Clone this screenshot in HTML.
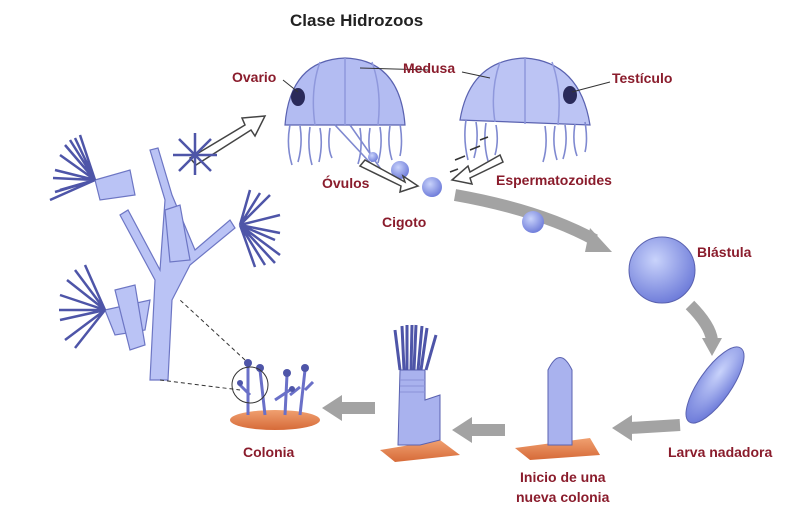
<!DOCTYPE html>
<html><head><meta charset="utf-8"><style>
html,body{margin:0;padding:0;background:#fff;}
svg{display:block}
.l{font-family:"Liberation Sans",sans-serif;font-weight:bold;font-size:14px;fill:#8a1c2c}
</style></head><body>
<svg width="800" height="520" viewBox="0 0 800 520" xmlns="http://www.w3.org/2000/svg">
<defs>
<radialGradient id="bl" cx="0.4" cy="0.35" r="0.7"><stop offset="0" stop-color="#c9d3fb"/><stop offset="1" stop-color="#6a78d8"/></radialGradient>
<linearGradient id="or" x1="0" y1="0" x2="0" y2="1"><stop offset="0" stop-color="#f0a070"/><stop offset="1" stop-color="#d66a38"/></linearGradient>
</defs>
<text x="290" y="26" font-family="Liberation Sans,sans-serif" font-weight="bold" font-size="17" fill="#222">Clase Hidrozoos</text>

<g fill="none" stroke="#a3a3a3" stroke-width="12">
<path d="M455 195 Q540 210 595 240"/>
<path d="M690 305 Q710 325 712 340"/>
<path d="M680 425 L630 428"/>
<path d="M505 430 L470 430"/>
<path d="M375 408 L340 408"/>
</g>
<g fill="#a3a3a3">
<polygon points="590,228 612,252 585,252"/>
<polygon points="702,338 722,338 712,356"/>
<polygon points="632,415 632,441 612,428"/>
<polygon points="472,417 472,443 452,430"/>
<polygon points="342,395 342,421 322,408"/>
</g>

<g stroke="#5a62b0" stroke-width="1.2">
<path d="M285 125 Q290 60 345 58 Q400 60 405 125 Z" fill="#b3bcf2"/>
<path d="M460 120 Q470 60 525 58 Q580 62 590 125 Z" fill="#bcc4f4"/>
</g>
<g stroke="#8f98dc" stroke-width="1.5" fill="none">
<path d="M320 62 Q310 90 315 125 M345 58 L345 125 M372 62 Q382 90 378 125"/>
<path d="M500 62 Q490 90 495 122 M525 58 L525 124 M552 62 Q562 90 558 125"/>
</g>
<g stroke="#7f89d0" stroke-width="1.6" fill="none">
<path d="M290 125 q-4 20 2 40 M300 126 q3 18 -2 36 M310 127 q-3 20 2 38 M320 128 q3 16 -1 34 M330 128 q-3 20 2 30 M360 128 q3 20 -2 36 M370 128 q-3 18 2 34 M380 127 q3 18 -2 36 M390 126 q-3 18 2 34 M400 124 q3 18 0 32"/>
<path d="M466 120 q-3 20 2 40 M476 122 q3 18 -2 36 M486 123 q-3 20 2 38 M496 125 q3 16 -1 30 M545 126 q3 20 -2 36 M555 126 q-3 18 2 34 M565 125 q3 18 -2 34 M575 124 q-3 18 2 32 M585 122 q3 18 0 30"/>
<path d="M335 125 L375 168 M350 125 L385 175"/>
</g>
<ellipse cx="298" cy="97" rx="7" ry="9" fill="#2a2a5a"/>
<ellipse cx="570" cy="95" rx="7" ry="9" fill="#2a2a5a"/>
<circle cx="373" cy="157" r="5" fill="url(#bl)"/>
<circle cx="400" cy="170" r="9" fill="url(#bl)"/>
<circle cx="432" cy="187" r="10" fill="url(#bl)"/>
<circle cx="533" cy="222" r="11" fill="url(#bl)"/>
<g fill="#fff" stroke="#444" stroke-width="1.5">
<path d="M365 160 L405 182 L403 176 L418 186 L400 192 L401 186 L360 166 Z"/>
<path d="M500 155 L470 172 L468 166 L452 180 L472 184 L470 178 L503 162 Z"/>
<path d="M190 158 L245 125 L242 118 L265 116 L255 136 L251 130 L196 165 Z"/>
</g>
<g stroke="#333" stroke-width="1.5"><path d="M455 160 l10 -4 M470 150 l10 -4 M450 172 l8 -3 M480 140 l8 -3"/></g>

<g stroke="#333" stroke-width="1"><path d="M283 80 L298 92 M462 72 L490 78 M610 82 L572 92 M430 70 L360 68"/></g>

<g fill="#bac3f5" stroke="#6d76c4" stroke-width="1.2">
<path d="M150 380 L155 280 L120 215 L128 210 L160 270 L165 200 L150 150 L158 148 L172 195 L195 250 L230 220 L235 228 L190 265 L172 300 L168 380 Z"/>
<path d="M95 180 L130 170 L135 195 L100 200 Z"/>
<path d="M165 210 L180 205 L190 260 L170 262 Z"/>
<path d="M105 310 L150 300 L145 330 L115 335 Z"/>
<path d="M115 290 L135 285 L145 345 L130 350 Z"/>
</g>
<g stroke="#4e55a8" stroke-width="2.5" fill="none">
<path d="M95 180 l-25 -40 M95 180 l-35 -25 M95 180 l-40 -10 M95 180 l-35 10 M95 180 l-15 -45 M95 180 l-45 20 M95 180 l-30 -35 M95 180 l-42 -2 M95 180 l-20 -42 M95 180 l-40 12"/>
<path d="M240 225 l30 -30 M240 225 l40 -10 M240 225 l35 15 M240 225 l10 -35 M240 225 l40 30 M240 225 l25 40 M240 225 l20 -32 M240 225 l40 8 M240 225 l35 38 M240 225 l15 42"/>
<path d="M105 310 l-30 -40 M105 310 l-45 -15 M105 310 l-45 10 M105 310 l-20 -45 M105 310 l-40 30 M105 310 l-38 -30 M105 310 l-46 0 M105 310 l-30 38"/>
<path d="M195 155 l0 -22 M195 155 l16 -16 M195 155 l22 0 M195 155 l16 16 M195 155 l-16 -16 M195 155 l-22 0 M195 155 l-16 16 M195 155 l0 20"/>
</g>
<path d="M160 380 L240 390 M245 360 L180 300" stroke="#333" stroke-dasharray="4 3" fill="none"/>
<ellipse cx="275" cy="420" rx="45" ry="10" fill="url(#or)"/>
<g stroke="#6a70c8" stroke-width="3" fill="none"><path d="M248 415 l0 -50 M265 415 l-5 -45 M285 415 l2 -40 M300 415 l5 -45 M275 400 l15 -10 M250 395 l-10 -10 M290 395 l10 -8 M305 390 l8 -8"/></g>
<g fill="#4e55a8"><circle cx="248" cy="363" r="4"/><circle cx="260" cy="368" r="4"/><circle cx="287" cy="373" r="4"/><circle cx="305" cy="368" r="4"/><circle cx="240" cy="383" r="3"/><circle cx="292" cy="389" r="3"/></g>
<circle cx="250" cy="385" r="18" fill="none" stroke="#333"/>

<path d="M380 450 L440 440 L460 455 L395 462 Z" fill="url(#or)"/>
<path d="M398 445 L400 370 L425 370 L425 400 L440 395 L440 440 L420 445 Z" fill="#a9b2ee" stroke="#5a62b0"/>
<g stroke="#8a92d8"><path d="M400 380 h25 M400 386 h25 M400 392 h25"/></g>
<g stroke="#4e55a8" stroke-width="3"><path d="M400 370 l-5 -40 M404 370 l-2 -44 M407 370 l0 -45 M411 370 l1 -45 M414 370 l2 -45 M418 370 l4 -44 M421 370 l6 -42 M426 370 l10 -35"/></g>
<path d="M515 448 L590 438 L600 455 L530 460 Z" fill="url(#or)"/>
<path d="M548 445 L548 370 Q560 345 572 370 L572 445 Z" fill="#a9b2ee" stroke="#5a62b0"/>
<circle cx="662" cy="270" r="33" fill="url(#bl)" stroke="#5a62b0"/>
<ellipse cx="715" cy="385" rx="16" ry="45" transform="rotate(35 715 385)" fill="url(#bl)" stroke="#5a62b0"/>

<text class="l" x="232" y="82">Ovario</text>
<text class="l" x="403" y="73">Medusa</text>
<text class="l" x="612" y="83">Testículo</text>
<text class="l" x="322" y="188">Óvulos</text>
<text class="l" x="496" y="185">Espermatozoides</text>
<text class="l" x="382" y="227">Cigoto</text>
<text class="l" x="697" y="257">Blástula</text>
<text class="l" x="668" y="457">Larva nadadora</text>
<text class="l" x="243" y="457">Colonia</text>
<text class="l" x="520" y="482">Inicio de una</text>
<text class="l" x="516" y="502">nueva colonia</text>
</svg>
</body></html>
